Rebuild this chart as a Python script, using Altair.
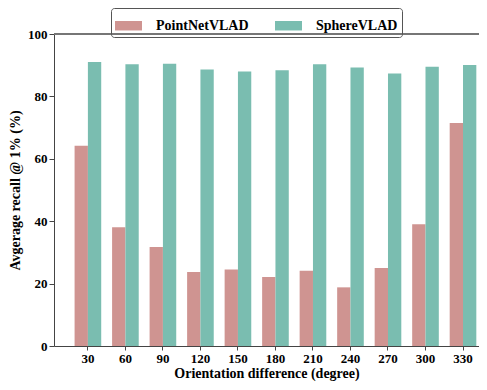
import altair as alt
import pandas as pd

angles = [30, 60, 90, 120, 150, 180, 210, 240, 270, 300, 330]
pointnetvlad = [64.2, 38.1, 31.7, 23.7, 24.5, 22.1, 24.1, 18.8, 25.0, 39.0, 71.5]
spherevlad = [91.0, 90.3, 90.5, 88.6, 88.0, 88.4, 90.3, 89.3, 87.3, 89.5, 90.1]
series = ["PointNetVLAD", "SphereVLAD"]
colors = ["#CF9491", "#7ABDB0"]

rows = []
for a, p, s in zip(angles, pointnetvlad, spherevlad):
    rows.append({"angle": a, "method": series[0], "recall": p})
    rows.append({"angle": a, "method": series[1], "recall": s})
df = pd.DataFrame(rows)

FONT = "Liberation Serif"
W, H = 425, 312

bars = alt.Chart(df).mark_bar().encode(
    x=alt.X("angle:O",
            scale=alt.Scale(paddingInner=0.29, paddingOuter=0.31, align=0.885),
            axis=alt.Axis(title="Orientation difference (degree)", labelAngle=0,
                          labelFont=FONT, labelFontWeight="bold", labelFontSize=13,
                          titleFont=FONT, titleFontWeight="bold", titleFontSize=14,
                          labelColor="black", titleColor="black",
                          domainColor="#444", tickColor="#444", tickSize=4,
                          labelPadding=2, titlePadding=1)),
    xOffset=alt.XOffset("method:N", sort=series),
    y=alt.Y("recall:Q",
            scale=alt.Scale(domain=[0, 100], nice=False),
            axis=alt.Axis(title="Avgerage recall @ 1% (%)", values=[0, 20, 40, 60, 80, 100],
                          grid=False,
                          labelFont=FONT, labelFontWeight="bold", labelFontSize=13,
                          titleFont=FONT, titleFontWeight="bold", titleFontSize=14,
                          labelColor="black", titleColor="black",
                          domainColor="#444", tickColor="#444", tickSize=5,
                          labelPadding=2, titlePadding=5)),
    color=alt.Color("method:N",
                    scale=alt.Scale(domain=series, range=colors),
                    legend=alt.Legend(title=None, orient="none", direction="horizontal",
                                      legendX=57, legendY=-26,
                                      labelFont=FONT, labelFontWeight="bold", labelFontSize=14,
                                      labelColor="black",
                                      symbolType="M-1,-0.35H1V0.35H-1Z", symbolSize=729,
                                      symbolStrokeWidth=0, symbolOpacity=1,
                                      strokeColor="#555", cornerRadius=3,
                                      padding=4, columnPadding=26, labelOffset=14)),
)

top_line = alt.Chart(df).mark_rule(color="#777", strokeWidth=1.2).encode(
    x=alt.value(0), x2=alt.value(W), y=alt.value(0)
)

chart = alt.layer(bars, top_line).properties(
    width=W, height=H,
    autosize=alt.AutoSizeParams(type="none"),
    padding={"left": 46, "top": 26, "right": 0, "bottom": 36},
).configure_view(
    strokeWidth=0
)

chart.save("out.html", embed_options={"renderer": "svg", "actions": False})
